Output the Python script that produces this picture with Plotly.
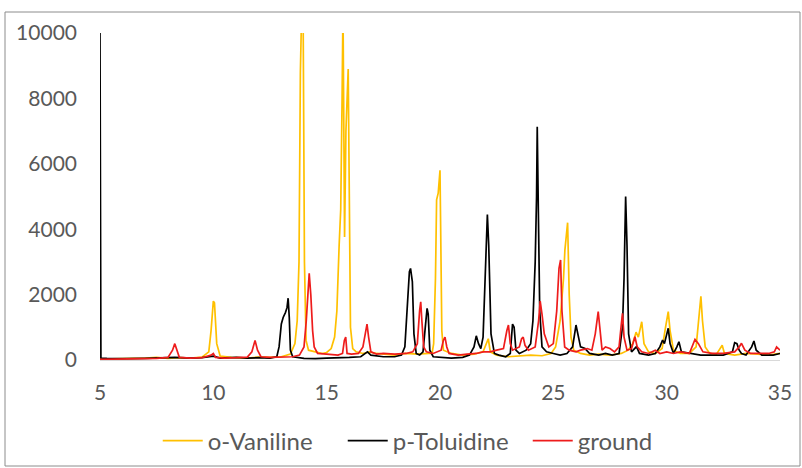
import plotly.graph_objects as go

# ---- data (2-theta, intensity) ----
vanil_x = [5.0, 6.0, 7.0, 7.5, 8.0, 8.5, 9.0, 9.5, 9.8, 9.9, 10.0, 10.05, 10.15, 10.3, 10.8, 11.5, 12.0, 12.5,
           13.0, 13.4, 13.6, 13.7, 13.78, 13.84, 13.9, 13.96, 14.02, 14.09, 14.2, 14.5, 14.8, 15.0, 15.2, 15.35,
           15.45, 15.55, 15.62, 15.68, 15.72, 15.79, 15.85, 15.95, 16.0, 16.05, 16.15, 16.3, 16.6, 16.9, 17.2,
           17.5, 18.0, 18.5, 19.0, 19.5, 19.65, 19.72, 19.8, 19.85, 19.92, 20.0, 20.04, 20.08, 20.15, 20.5, 21.0,
           21.5, 21.9, 22.05, 22.13, 22.22, 22.5, 23.0, 23.5, 24.0, 24.5, 24.9, 25.1, 25.3, 25.45, 25.51, 25.63,
           25.7, 25.78, 25.9, 26.2, 26.6, 27.0, 27.5, 28.0, 28.3, 28.5, 28.65, 28.75, 28.9, 29.0, 29.2, 29.5,
           29.8, 29.95, 30.07, 30.15, 30.3, 30.6, 31.0, 31.3, 31.42, 31.51, 31.58, 31.7, 31.9, 32.2, 32.45,
           32.55, 33.0, 33.5, 34.0, 34.5, 35.0]
vanil_y = [30, 40, 60, 80, 50, 70, 60, 90, 250, 900, 1800, 1750, 500, 120, 80, 60, 90, 80,
           100, 180, 500, 1200, 3000, 8800, 10800, 10800, 3000, 600, 300, 250, 200, 230, 350, 700,
           1500, 3500, 4600, 8000, 10800, 3760, 7000, 8900, 4000, 1000, 350, 250, 200, 250, 200,
           180, 150, 200, 180, 200, 200, 500, 2500, 4900, 5100, 5800, 3500, 900, 300, 200, 150,
           180, 250, 500, 650, 250, 150, 100, 120, 150, 130, 200, 400, 1200, 2500, 3360, 4200,
           2000, 700, 300, 200, 150, 180, 150, 200, 300, 500, 850, 700, 1170, 500, 250, 200,
           350, 1000, 1480, 900, 300, 200, 200, 400, 1300, 1950, 1200, 400, 200, 180, 450,
           200, 150, 200, 180, 150, 200]

tolu_x = [5.0, 5.04, 5.3, 6.0, 7.0, 8.0, 8.3, 9.0, 9.5, 10.0, 10.3, 11.0, 11.5, 12.0, 12.5, 12.8, 12.9, 13.0,
          13.08, 13.18, 13.25, 13.3, 13.35, 13.4, 13.5, 14.0, 14.5, 15.0, 15.5, 16.0, 16.5, 16.8, 16.95, 17.5,
          18.0, 18.3, 18.45, 18.55, 18.65, 18.7, 18.78, 18.85, 18.95, 19.1, 19.25, 19.35, 19.43, 19.48, 19.55,
          19.7, 20.0, 20.5, 21.0, 21.3, 21.5, 21.6, 21.7, 21.8, 21.9, 22.0, 22.09, 22.15, 22.25, 22.4, 22.6,
          22.9, 23.1, 23.2, 23.27, 23.35, 23.5, 23.8, 24.0, 24.1, 24.2, 24.26, 24.29, 24.34, 24.4, 24.5, 24.7,
          25.0, 25.3, 25.6, 25.85, 26.0, 26.08, 26.2, 26.4, 26.6, 27.0, 27.3, 27.6, 27.9, 28.05, 28.12, 28.19,
          28.25, 28.32, 28.45, 28.67, 28.8, 29.2, 29.5, 29.7, 29.82, 29.9, 30.07, 30.15, 30.3, 30.45, 30.54,
          30.65, 31.0, 31.5, 32.0, 32.5, 32.9, 33.0, 33.1, 33.2, 33.3, 33.5, 33.75, 33.85, 33.95, 34.2, 34.7,
          35.0]
tolu_y = [10000, 60, 50, 40, 50, 60, 80, 60, 70, 120, 60, 80, 60, 70, 60, 100, 400, 1100,
          1300, 1450, 1600, 1890, 1300, 300, 100, 50, 40, 60, 60, 80, 100, 250, 150, 100,
          100, 150, 400, 1500, 2700, 2800, 2400, 800, 200, 150, 250, 1000, 1580, 1400, 300,
          100, 80, 60, 80, 150, 400, 740, 500, 350, 700, 2500, 4450, 3500, 800, 200, 150,
          100, 200, 1100, 1000, 300, 200, 300, 500, 1200, 3000, 5000, 7130, 4500, 1500, 400, 250,
          200, 150, 200, 400, 1070, 800, 400, 350, 200, 150, 200, 150, 200, 1000, 2500, 5000,
          3500, 800, 250, 410, 200, 150, 200, 400, 610, 500, 970, 500, 200, 400, 560,
          250, 200, 150, 150, 150, 250, 530, 500, 300, 200, 150, 400, 580, 300, 150, 150,
          200]

ground_x = [5.0, 6.0, 7.0, 7.5, 8.0, 8.2, 8.3, 8.38, 8.5, 9.0, 9.5, 9.9, 10.0, 10.1, 10.5, 11.0, 11.5, 11.7,
            11.84, 11.95, 12.1, 12.5, 13.0, 13.5, 13.8, 14.0, 14.1, 14.2, 14.23, 14.3, 14.38, 14.45, 14.6, 15.0,
            15.5, 15.7, 15.78, 15.84, 15.9, 16.1, 16.4, 16.6, 16.72, 16.78, 16.85, 16.95, 17.2, 17.5, 18.0, 18.5,
            18.8, 19.0, 19.1, 19.15, 19.2, 19.28, 19.4, 19.7, 20.05, 20.15, 20.22, 20.3, 20.4, 20.8, 21.2, 21.6,
            21.9, 22.2, 22.5, 22.8, 22.95, 23.02, 23.1, 23.2, 23.5, 23.6, 23.67, 23.75, 23.9, 24.2, 24.35, 24.42,
            24.5, 24.6, 24.8, 25.0, 25.15, 25.25, 25.32, 25.38, 25.5, 25.7, 26.0, 26.2, 26.5, 26.7, 26.85, 26.98,
            27.05, 27.15, 27.3, 27.5, 27.7, 27.9, 28.0, 28.05, 28.12, 28.25, 28.45, 28.6, 28.7, 28.9, 29.2, 29.5,
            29.7, 30.0, 30.3, 30.6, 31.0, 31.15, 31.25, 31.4, 31.6, 32.0, 32.5, 33.0, 33.2, 33.3, 33.45, 33.7,
            34.0, 34.5, 34.75, 34.85, 35.0]
ground_y = [20, 30, 40, 50, 80, 300, 500, 300, 80, 60, 70, 150, 200, 80, 60, 70, 90, 250,
            600, 300, 100, 80, 80, 100, 150, 400, 1200, 2300, 2650, 2000, 900, 400, 200, 180,
            150, 200, 600, 700, 200, 180, 200, 400, 900, 1100, 700, 250, 180, 200, 180, 200,
            250, 500, 1500, 1780, 1200, 400, 250, 200, 300, 600, 700, 400, 200, 150, 180, 200,
            250, 250, 300, 350, 900, 1070, 500, 300, 400, 650, 700, 450, 300, 400, 1200, 1800,
            1400, 800, 400, 500, 1500, 2800, 3060, 1500, 400, 300, 250, 300, 350, 300, 800, 1480,
            1000, 300, 400, 350, 250, 400, 1100, 1430, 700, 300, 350, 710, 400, 250, 200, 300,
            200, 250, 200, 250, 200, 450, 630, 500, 250, 200, 200, 250, 400, 510, 300, 200,
            200, 200, 250, 400, 300]

x_ticks = [5, 10, 15, 20, 25, 30, 35]
y_ticks = [0, 2000, 4000, 6000, 8000, 10000]
y_tick_text = ["0", "2000", "4000", "6000", "8000", "10000"]

series = [
    ("o-Vaniline", vanil_x, vanil_y, "#FFC000"),
    ("p-Toluidine", tolu_x, tolu_y, "#000000"),
    ("ground", ground_x, ground_y, "#EE1C1C"),
]

fig = go.Figure()
for name, xs, ys, col in series:
    fig.add_trace(go.Scatter(x=xs, y=ys, mode="lines", name=name,
                             line=dict(color=col, width=1.7)))

font_col = "#595959"
fig.update_layout(
    width=802, height=468,
    margin=dict(l=100, r=22, t=33, b=108, autoexpand=False),
    paper_bgcolor="white", plot_bgcolor="white",
    font=dict(family="Lato, Open Sans, sans-serif", size=21, color=font_col),
    showlegend=True,
    legend=dict(orientation="h", x=0.493, xanchor="center", y=(360 - 441) / 327, yanchor="middle",
                font=dict(size=24, color=font_col), bgcolor="rgba(0,0,0,0)",
                entrywidth=130, entrywidthmode="pixels", itemwidth=40, tracegroupgap=0),
    xaxis=dict(range=[5, 35], tickvals=x_ticks, showgrid=False, zeroline=False, automargin=False,
               showline=True, linecolor="#D9D9D9", linewidth=1, ticks="",
               ticklabelstandoff=14, tickfont=dict(size=21, color=font_col)),
    yaxis=dict(range=[0, 10000], tickvals=y_ticks, ticktext=y_tick_text, showgrid=False,
               zeroline=False, automargin=False, showline=False, ticks="", ticklabelstandoff=22,
               tickfont=dict(size=21, color=font_col)),
    shapes=[dict(type="rect", xref="paper", yref="paper",
                 x0=(5 - 100) / 680, x1=(800 - 100) / 680,
                 y0=(360 - 466) / 327, y1=(360 - 12) / 327,
                 line=dict(color="#8C8C8C", width=1), fillcolor="rgba(0,0,0,0)", layer="below")],
)

fig.write_html("out.html", config={"displayModeBar": False},
               post_script="document.body.style.margin='0';document.body.style.overflow='hidden';")
